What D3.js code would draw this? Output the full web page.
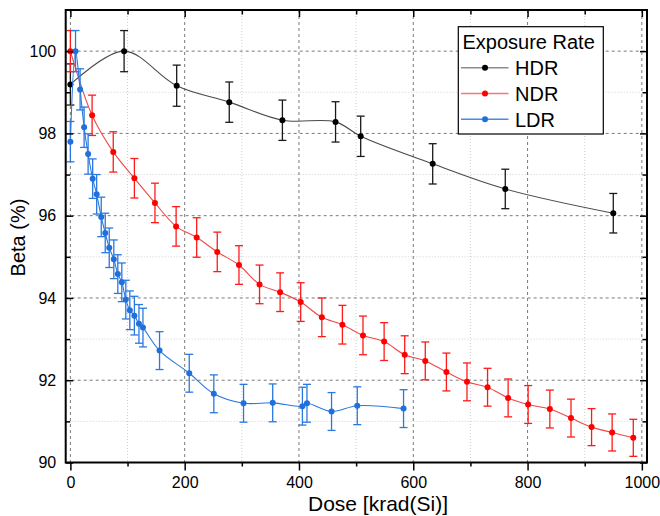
<!DOCTYPE html>
<html>
<head>
<meta charset="utf-8">
<script src="https://cdn.jsdelivr.net/npm/d3@7"></script>
<style>
  html, body { margin: 0; padding: 0; background: #fff; }
  svg { display: block; font-family: "Liberation Sans", Arial, sans-serif; }
</style>
</head>
<body>
<svg id="chart" width="660" height="516"></svg>
<script>
// ---- data ----
const hdrX = [0, 94, 186, 278, 371, 464, 508, 634, 761, 950];
const hdrY = [99.19, 100.0, 99.16, 98.76, 98.32, 98.28, 97.93, 97.26, 96.65, 96.06];
const hdrErr = [0.50, 0.50, 0.50, 0.49, 0.49, 0.49, 0.49, 0.49, 0.48, 0.48];

const ndrX = [0, 38, 75, 112, 148, 185, 221, 257, 295, 331, 367, 403, 440, 476, 512, 549, 585, 621, 658, 694, 730, 766, 801, 839, 876, 912, 948, 985];
const ndrY = [100.0, 98.44, 97.55, 96.91, 96.31, 95.74, 95.47, 95.12, 94.80, 94.33, 94.14, 93.90, 93.53, 93.35, 93.09, 92.94, 92.62, 92.47, 92.20, 91.96, 91.83, 91.57, 91.41, 91.30, 91.08, 90.86, 90.73, 90.60];
const ndrErr = [0.50, 0.49, 0.49, 0.48, 0.48, 0.48, 0.48, 0.48, 0.47, 0.47, 0.47, 0.47, 0.47, 0.47, 0.47, 0.46, 0.46, 0.46, 0.46, 0.46, 0.46, 0.46, 0.46, 0.46, 0.46, 0.45, 0.45, 0.45];

const ldrX = [0, 9, 17, 24, 31, 39, 46, 54, 61, 68, 76, 83, 90, 97, 104, 112, 120, 127, 156, 208, 251, 303, 354, 406, 414, 457, 502, 583];
const ldrY = [97.80, 100.0, 99.07, 98.15, 97.50, 96.90, 96.52, 95.97, 95.58, 95.22, 94.94, 94.58, 94.38, 93.96, 93.70, 93.57, 93.37, 93.28, 92.72, 92.17, 91.67, 91.44, 91.45, 91.37, 91.44, 91.24, 91.38, 91.31];
const ldrErr = [0.49, 0.50, 0.50, 0.49, 0.49, 0.48, 0.48, 0.48, 0.48, 0.48, 0.47, 0.47, 0.47, 0.47, 0.47, 0.47, 0.47, 0.47, 0.46, 0.46, 0.46, 0.46, 0.46, 0.46, 0.46, 0.46, 0.46, 0.46];

const seriesNames = ["HDR", "NDR", "LDR"];
const legendTitle = "Exposure Rate";
const xMajorTicks = [0, 200, 400, 600, 800, 1000];
const xMinorTicks = [100, 300, 500, 700, 900];
const yMajorTicks = [90, 92, 94, 96, 98, 100];
const yMinorTicks = [91, 93, 95, 97, 99];
const xTitle = "Dose [krad(Si)]";
const yTitle = "Beta (%)";

// ---- layout ----
const L = 65.7, R = 647, T = 10, B = 462.5;
const svg = d3.select("#chart");
const x = d3.scaleLinear().domain([-8.2, 1009]).range([L, R]);
const y = d3.scaleLinear().domain([90, 101]).range([B, T]);

const styles = {
  HDR: { line: "#4a4a4a", dot: "#000000", err: "#1a1a1a", leg: "#8c8c8c" },
  NDR: { line: "#f04848", dot: "#ff0000", err: "#ff1a1a", leg: "#f47a7a" },
  LDR: { line: "#2a78e0", dot: "#1f6fdc", err: "#2a78e0", leg: "#4a8be6" }
};

// ---- grid ----
const grid = svg.append("g");
grid.selectAll(".gxm").data(xMinorTicks).join("line")
  .attr("x1", d => x(d)).attr("x2", d => x(d)).attr("y1", T).attr("y2", B)
  .attr("stroke", "#cfcfcf").attr("stroke-width", 1).attr("stroke-dasharray", "1,2");
grid.selectAll(".gym").data(yMinorTicks).join("line")
  .attr("y1", d => y(d)).attr("y2", d => y(d)).attr("x1", L).attr("x2", R)
  .attr("stroke", "#cfcfcf").attr("stroke-width", 1).attr("stroke-dasharray", "1,2");
grid.selectAll(".gx").data(xMajorTicks).join("line")
  .attr("x1", d => x(d)).attr("x2", d => x(d)).attr("y1", T).attr("y2", B)
  .attr("stroke", "#7a7a7a").attr("stroke-width", 1).attr("stroke-dasharray", "3,3");
grid.selectAll(".gy").data(yMajorTicks.filter(v => v > 90)).join("line")
  .attr("y1", d => y(d)).attr("y2", d => y(d)).attr("x1", L).attr("x2", R)
  .attr("stroke", "#7a7a7a").attr("stroke-width", 1).attr("stroke-dasharray", "3,3");

// ---- series ----
function drawSeries(name, xs, ys, es) {
  const st = styles[name];
  const pts = xs.map((v, i) => ({ x: v, y: ys[i], e: es[i] }));
  const g = svg.append("g");
  const line = d3.line().x(d => x(d.x)).y(d => y(d.y)).curve(d3.curveCatmullRom.alpha(0.5));
  g.append("path").datum(pts).attr("d", line)
    .attr("fill", "none").attr("stroke", st.line).attr("stroke-width", 1.1);
  const eb = g.selectAll(".eb").data(pts).join("g");
  eb.append("line").attr("x1", d => x(d.x)).attr("x2", d => x(d.x))
    .attr("y1", d => y(d.y + d.e)).attr("y2", d => y(d.y - d.e))
    .attr("stroke", st.err).attr("stroke-width", 1.3);
  eb.append("line").attr("x1", d => x(d.x) - 4).attr("x2", d => x(d.x) + 4)
    .attr("y1", d => y(d.y + d.e)).attr("y2", d => y(d.y + d.e))
    .attr("stroke", st.err).attr("stroke-width", 1.3);
  eb.append("line").attr("x1", d => x(d.x) - 4).attr("x2", d => x(d.x) + 4)
    .attr("y1", d => y(d.y - d.e)).attr("y2", d => y(d.y - d.e))
    .attr("stroke", st.err).attr("stroke-width", 1.3);
  g.selectAll("circle").data(pts).join("circle")
    .attr("cx", d => x(d.x)).attr("cy", d => y(d.y)).attr("r", 3)
    .attr("fill", st.dot);
}
drawSeries("HDR", hdrX, hdrY, hdrErr);
drawSeries("NDR", ndrX, ndrY, ndrErr);
drawSeries("LDR", ldrX, ldrY, ldrErr);

// ---- axes ----
function styleAxis(g) {
  g.select(".domain").remove();
  g.selectAll(".tick line").attr("stroke", "#000").attr("stroke-width", 1.5);
  g.selectAll("text").attr("fill", "#000").style("font-size", "16px")
    .style("font-family", '"Liberation Sans", Arial, sans-serif');
}
// bottom (outward)
svg.append("g").attr("transform", `translate(0,${B})`)
  .call(d3.axisBottom(x).tickValues(xMajorTicks).tickSize(8).tickPadding(6.2).tickFormat(d3.format("d")))
  .call(styleAxis);
svg.append("g").attr("transform", `translate(0,${B})`)
  .call(d3.axisBottom(x).tickValues(xMinorTicks).tickSize(4).tickFormat(""))
  .call(styleAxis);
// top (inward)
svg.append("g").attr("transform", `translate(0,${T})`)
  .call(d3.axisTop(x).tickValues(xMajorTicks).tickSize(-7).tickFormat(""))
  .call(styleAxis);
svg.append("g").attr("transform", `translate(0,${T})`)
  .call(d3.axisTop(x).tickValues(xMinorTicks).tickSize(-4.5).tickFormat(""))
  .call(styleAxis);
// left (inward)
svg.append("g").attr("transform", `translate(${L},0)`)
  .call(d3.axisLeft(y).tickValues(yMajorTicks).tickSize(-7.5).tickPadding(9.5).tickFormat(d3.format("d")))
  .call(styleAxis);
svg.append("g").attr("transform", `translate(${L},0)`)
  .call(d3.axisLeft(y).tickValues(yMinorTicks).tickSize(-4.5).tickFormat(""))
  .call(styleAxis);
// right (inward)
svg.append("g").attr("transform", `translate(${R},0)`)
  .call(d3.axisRight(y).tickValues(yMajorTicks).tickSize(-7).tickFormat(""))
  .call(styleAxis);
svg.append("g").attr("transform", `translate(${R},0)`)
  .call(d3.axisRight(y).tickValues(yMinorTicks).tickSize(-4.5).tickFormat(""))
  .call(styleAxis);

// frame
svg.append("rect").attr("x", L).attr("y", T).attr("width", R - L).attr("height", B - T)
  .attr("fill", "none").attr("stroke", "#000").attr("stroke-width", 2);

// axis titles
svg.append("text").attr("x", 378).attr("y", 511).attr("text-anchor", "middle")
  .style("font-size", "21px").attr("fill", "#000").text(xTitle);
svg.append("text").attr("transform", "translate(25,237.5) rotate(-90)").attr("text-anchor", "middle")
  .style("font-size", "20px").attr("fill", "#000").text(yTitle);

// ---- legend ----
const lg = svg.append("g");
lg.append("rect").attr("x", 458.3).attr("y", 26.7).attr("width", 145).attr("height", 107.3)
  .attr("fill", "#fff").attr("stroke", "#000").attr("stroke-width", 1.2);
lg.append("text").attr("x", 462.5).attr("y", 48.5).style("font-size", "20px").attr("fill", "#000").text(legendTitle);
seriesNames.forEach((n, i) => {
  const cy = 67.7 + i * 25.8;
  lg.append("line").attr("x1", 461).attr("x2", 508.5).attr("y1", cy).attr("y2", cy)
    .attr("stroke", styles[n].leg).attr("stroke-width", 1.6);
  lg.append("circle").attr("cx", 485).attr("cy", cy).attr("r", 3).attr("fill", styles[n].dot);
  lg.append("text").attr("x", 515).attr("y", cy + 7.2).style("font-size", "20px").attr("fill", "#000").text(n);
});
</script>
</body>
</html>
